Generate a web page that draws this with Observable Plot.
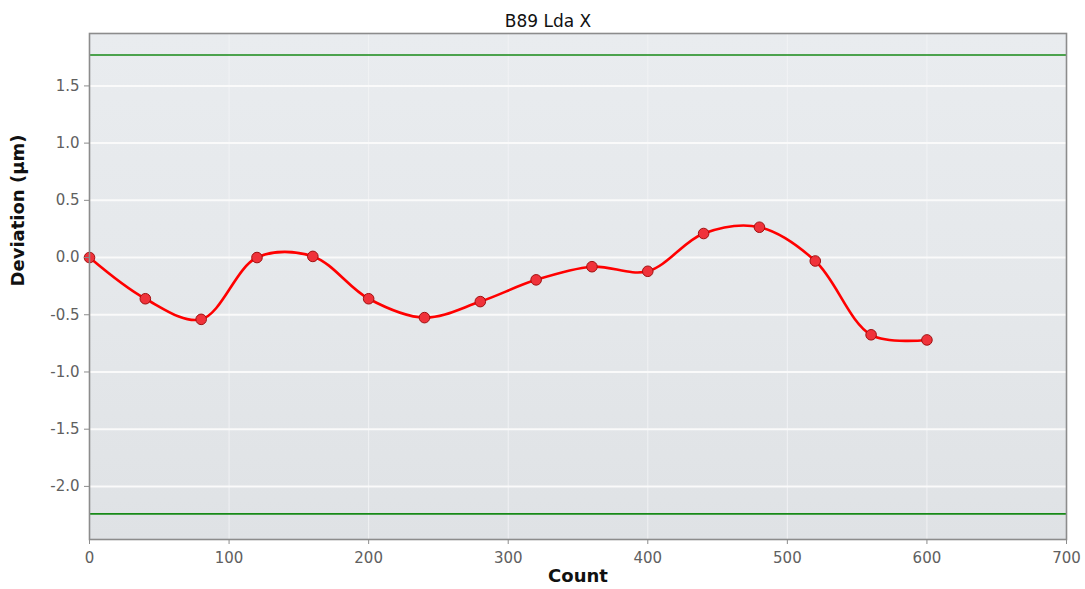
<!DOCTYPE html>
<html>
<head>
<meta charset="utf-8">
<script src="https://cdn.jsdelivr.net/npm/d3@7"></script>
<script src="https://cdn.jsdelivr.net/npm/@observablehq/plot@0.6"></script>
<style>
  html, body { margin: 0; padding: 0; background: #ffffff; }
  #chart svg { display: block; }
</style>
</head>
<body>
<div id="chart"></div>
<script>
const title = "B89 Lda X";
const xLabel = "Count";
const yLabel = "Deviation (µm)";

const counts = [0, 40, 80, 120, 160, 200, 240, 280, 320, 360, 400, 440, 480, 520, 560, 600];
const deviations = [0.0, -0.36, -0.54, 0.0, 0.01, -0.36, -0.525, -0.385, -0.195, -0.08, -0.12, 0.21, 0.265, -0.03, -0.675, -0.72];

const upperLimit = 1.77;
const lowerLimit = -2.24;

const xTicks = [0, 100, 200, 300, 400, 500, 600, 700];
const yTicks = [-2.0, -1.5, -1.0, -0.5, 0.0, 0.5, 1.0, 1.5];

const data = counts.map((c, i) => ({count: c, dev: deviations[i]}));
const limits = [upperLimit, lowerLimit];

const chart = Plot.plot({
  width: 1085,
  height: 589,
  marginLeft: 89,
  marginRight: 19,
  marginTop: 33,
  marginBottom: 50,
  style: {fontFamily: "DejaVu Sans, Verdana, sans-serif", background: "#ffffff"},
  x: {domain: [0, 700], label: null},
  y: {domain: [-2.464, 1.958], label: null},
  marks: [
    Plot.frame({fill: "url(#plotbg)"}),
    Plot.gridX(xTicks, {stroke: "#f2f3f5", strokeOpacity: 0.9, strokeWidth: 1}),
    Plot.gridY(yTicks, {stroke: "#fafafa", strokeOpacity: 1, strokeWidth: 2}),
    Plot.ruleY(limits, {stroke: "#178a17", strokeWidth: 1.6}),
    Plot.line(data, {x: "count", y: "dev", stroke: "#ff0000", strokeWidth: 2.6, curve: "catmull-rom"}),
    Plot.dot(data, {x: "count", y: "dev", r: 5.3, fill: "#f0323a", stroke: "#a01010", strokeWidth: 1}),
    Plot.frame({stroke: "#8c8c8c", strokeWidth: 1.6}),
    Plot.axisY(yTicks, {tickFormat: d => d.toFixed(1), tickSize: 5, tickPadding: 5, fontSize: 15, fill: "#606060", stroke: "#8c8c8c", label: null}),
    Plot.axisX(xTicks, {tickFormat: d => String(d), tickSize: 5, tickPadding: 8, fontSize: 15, fill: "#606060", stroke: "#8c8c8c", label: null}),
    Plot.text([title], {text: d => d, frameAnchor: "top", dy: -19, dx: -30, fontSize: 17, fill: "#111"}),
    Plot.text([xLabel], {text: d => d, frameAnchor: "bottom", dy: 42, fontSize: 18, fontWeight: "bold", fill: "#111"}),
    Plot.text([yLabel], {text: d => d, frameAnchor: "left", dx: -71, rotate: -90, fontSize: 18, fontWeight: "bold", fill: "#111"})
  ]
});

// gradient background for plot area
const ns = "http://www.w3.org/2000/svg";
const defs = document.createElementNS(ns, "defs");
defs.innerHTML = `<linearGradient id="plotbg" x1="0" y1="0" x2="0" y2="1">
  <stop offset="0" stop-color="#e9ecef"/>
  <stop offset="0.5" stop-color="#e5e8eb"/>
  <stop offset="1" stop-color="#dfe2e5"/>
</linearGradient>`;
chart.insertBefore(defs, chart.firstChild);

document.getElementById("chart").appendChild(chart);
</script>
</body>
</html>
